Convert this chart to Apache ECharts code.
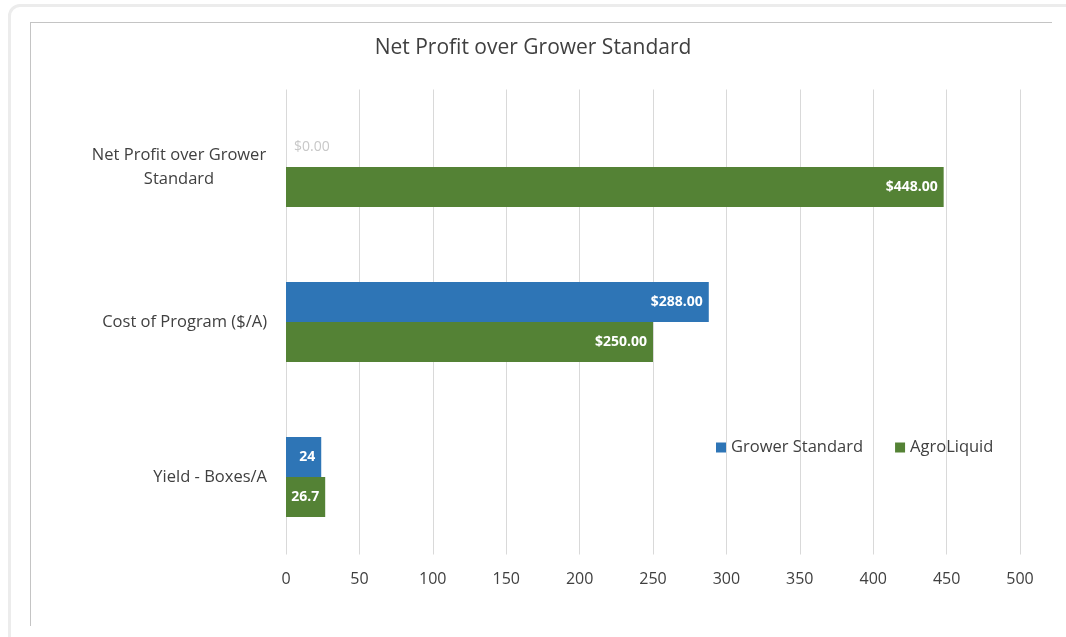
<!DOCTYPE html>
<html>
<head>
<meta charset="utf-8">
<script src="https://cdn.jsdelivr.net/npm/echarts@6/dist/echarts.min.js"></script>
<style>
  html, body { margin: 0; padding: 0; background: #fff; overflow: hidden; }
  .outer {
    position: absolute; left: 8px; top: 4px; width: 1100px; height: 700px;
    border: 3px solid #ececec; border-radius: 12px;
  }
  .inner {
    position: absolute; left: 30px; top: 22px; width: 1021px; height: 603px;
    border-top: 1px solid #c4c4c4; border-left: 1px solid #c4c4c4;
  }
  #chart { position: absolute; left: 0; top: 0; width: 1066px; height: 637px; }
</style>
</head>
<body>
<div class="outer"></div>
<div class="inner"></div>
<div id="chart"></div>
<script>
  const categories = ['Net Profit over Grower\nStandard', 'Cost of Program ($/A)', 'Yield - Boxes/A'];
  const growerStandard = [0, 288, 24];
  const agroLiquid = [448, 250, 26.7];
  const xTicks = [0, 50, 100, 150, 200, 250, 300, 350, 400, 450, 500];

  const chart = echarts.init(document.getElementById('chart'));

  function fmt(p) {
    // yield row shows plain numbers, the others are dollars
    if (p.dataIndex === 2) return String(p.value);
    return '$' + Number(p.value).toFixed(2);
  }

  const font = '"Open Sans", "Noto Sans", sans-serif';
  const txt = '#404040';

  const option = {
    textStyle: { fontFamily: font },
    title: {
      text: 'Net Profit over Grower Standard',
      left: 'center',
      top: 33,
      textStyle: { fontSize: 21, fontWeight: 'normal', color: txt, fontFamily: font },
    },
    legend: {
      left: 711,
      top: 434,
      itemWidth: 10,
      itemHeight: 10,
      itemGap: 32,
      icon: 'rect',
      textStyle: { fontSize: 16.5, color: txt, fontFamily: font },
      data: ['Grower Standard', 'AgroLiquid'],
    },
    grid: { left: 286, right: 46, top: 89.5, bottom: 82.5, containLabel: false },
    xAxis: {
      type: 'value',
      min: 0,
      max: xTicks[xTicks.length - 1],
      interval: 50,
      axisLine: { show: false },
      axisTick: { show: false },
      splitLine: { lineStyle: { color: '#d9d9d9', width: 1 } },
      axisLabel: { fontSize: 16, color: txt, margin: 17, fontFamily: font },
    },
    yAxis: {
      type: 'category',
      inverse: true,
      data: categories,
      axisLine: { show: false },
      axisTick: { show: false },
      axisLabel: {
        fontSize: 16.5,
        color: txt,
        margin: 19,
        align: 'right',
        lineHeight: 24,
        fontFamily: font,
        formatter: function (v) {
          if (v.indexOf('\n') < 0) return v;
          return v.split('\n').map(l => '{c|' + l + '}').join('\n');
        },
        rich: {
          c: { width: 176, align: 'center', fontSize: 16.5, color: txt, lineHeight: 24, fontFamily: font },
        },
      },
    },
    series: [
      {
        name: 'Grower Standard',
        type: 'bar',
        barWidth: 40,
        barGap: '0%',
        itemStyle: { color: '#2e75b6' },
        data: growerStandard.map(v => {
          if (v === 0) {
            return { value: v, label: { position: 'right', distance: 8, color: '#c8c8c8', fontWeight: 'normal' } };
          }
          return v;
        }),
        label: {
          show: true,
          position: 'insideRight',
          distance: 6,
          color: '#fff',
          fontWeight: 'bold',
          fontSize: 14,
          fontFamily: font,
          formatter: fmt,
        },
      },
      {
        name: 'AgroLiquid',
        type: 'bar',
        barWidth: 40,
        barGap: '0%',
        itemStyle: { color: '#548235' },
        data: agroLiquid,
        label: {
          show: true,
          position: 'insideRight',
          distance: 6,
          color: '#fff',
          fontWeight: 'bold',
          fontSize: 14,
          fontFamily: font,
          formatter: fmt,
        },
      },
    ],
  };

  chart.setOption(option);
</script>
</body>
</html>
